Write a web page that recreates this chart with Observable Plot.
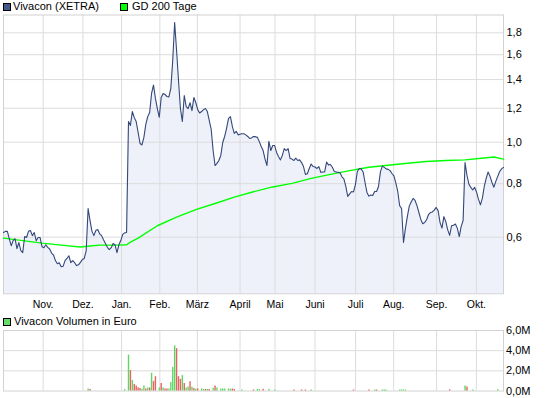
<!DOCTYPE html>
<html><head><meta charset="utf-8">
<script src="https://cdn.jsdelivr.net/npm/d3@7"></script>
<script src="https://cdn.jsdelivr.net/npm/@observablehq/plot@0.6"></script>
<style>
body{margin:0;background:#fff;font-family:"Liberation Sans",Arial,sans-serif;}
#wrap{position:relative;width:545px;height:398px;overflow:hidden;background:#fff;}
.lg{position:absolute;font-size:11px;line-height:11px;color:#000;white-space:nowrap;}
.sq{position:absolute;width:6px;height:6px;border:1px solid #000;}
#main{position:absolute;left:0;top:0;}
#vol{position:absolute;left:0;top:315px;}
</style></head><body>
<div id="wrap">
  <div id="main"></div>
  <div id="vol"></div>
  <div class="sq" style="left:3px;top:3px;background:#44598a"></div>
  <div class="lg" style="left:13px;top:1px">Vivacon (XETRA)</div>
  <div class="sq" style="left:120px;top:3px;background:#00ff00"></div>
  <div class="lg" style="left:132px;top:1px">GD 200 Tage</div>
  <div class="sq" style="left:3px;top:318px;background:#66dd66"></div>
  <div class="lg" style="left:14px;top:316px">Vivacon Volumen in Euro</div>
</div>
<script>
// Closing prices per trading day (index 0 = first day shown)
const prices = [
0.615,0.619,0.619,0.595,0.573,0.589,0.595,0.564,0.583,0.558,
0.552,0.602,0.599,0.619,0.622,0.605,0.615,0.589,0.599,0.599,
0.570,0.567,0.576,0.568,0.563,0.551,0.545,0.529,0.520,0.523,
0.512,0.513,0.529,0.535,0.543,0.523,0.529,0.523,0.515,0.517,
0.524,0.532,0.535,0.558,0.700,0.656,0.619,0.605,0.622,0.625,
0.611,0.605,0.592,0.580,0.568,0.561,0.567,0.580,0.576,0.552,
0.576,0.589,0.609,0.614,0.615,1.117,1.094,1.179,1.141,1.117,
1.054,0.993,0.985,1.026,1.100,1.147,1.173,1.299,1.359,1.265,
1.198,1.143,1.271,1.299,1.292,1.278,1.275,1.334,1.551,1.902,
1.637,1.393,1.198,1.117,1.285,1.211,1.198,1.236,1.185,1.271,
1.236,1.191,1.170,1.179,1.191,1.198,1.179,1.123,1.071,0.956,
0.882,0.892,0.906,0.931,0.998,1.031,1.077,1.135,1.147,1.088,
1.048,1.060,1.040,1.043,1.046,1.046,1.040,1.031,1.020,1.023,
1.031,1.030,1.026,1.004,0.977,0.956,0.913,0.882,1.004,0.956,
0.982,0.982,0.946,0.926,0.909,0.931,0.966,0.956,0.966,0.916,
0.913,0.906,0.918,0.906,0.909,0.896,0.877,0.841,0.844,0.868,
0.889,0.877,0.875,0.868,0.877,0.850,0.852,0.852,0.898,0.885,
0.887,0.874,0.854,0.852,0.850,0.848,0.830,0.821,0.788,0.747,
0.757,0.767,0.765,0.796,0.854,0.868,0.866,0.852,0.805,0.763,
0.748,0.753,0.751,0.767,0.767,0.788,0.852,0.879,0.873,0.866,
0.864,0.858,0.845,0.834,0.803,0.767,0.711,0.700,0.583,0.629,
0.670,0.709,0.725,0.739,0.731,0.711,0.685,0.660,0.645,0.649,
0.659,0.677,0.685,0.687,0.694,0.704,0.692,0.649,0.630,0.670,
0.652,0.624,0.606,0.638,0.640,0.644,0.629,0.602,0.636,0.656,
0.896,0.837,0.798,0.784,0.773,0.784,0.764,0.735,0.714,0.739,
0.788,0.823,0.852,0.832,0.805,0.785,0.810,0.832,0.854,0.866,0.873
];

// 200-day moving average (GD 200), read at sample days
const maDays   = [0,10,20,30,40,45,50,60,64,66,70,80,90,100,110,120,130,140,150,160,170,180,190,200,210,220,230,240,250,255,260];
const maValues = [0.597,0.589,0.581,0.575,0.569,0.572,0.575,0.575,0.576,0.584,0.597,0.638,0.668,0.696,0.719,0.744,0.766,0.786,0.801,0.823,0.841,0.858,0.874,0.883,0.893,0.901,0.906,0.909,0.918,0.923,0.913];

// Volume in Euro (millions), with up/down day
const volDays = [44,45,63,65,66,67,68,69,70,71,72,73,74,75,76,77,78,79,
  81,82,83,84,85,86,87,88,89,90,91,92,93,94,95,96,97,98,99,100,101,
  103,104,105,106,107,109,110,111,113,114,115,117,118,119,120,
  124,130,132,133,135,138,141,151,155,157,160,
  182,190,193,194,197,198,199,206,207,208,209,232,240,241,244,257];
const volMillions = [0.2,0.14,0.14,3.56,2.03,1.05,0.64,0.5,0.31,0.24,0.17,0.5,0.2,0.3,0.3,1.76,0.95,1.42,
  0.3,0.75,0.3,0.2,0.2,0.2,0.85,2.34,4.48,4.2,1.42,1.15,1.53,0.75,0.3,0.4,0.92,0.37,0.24,0.17,0.2,
  0.2,0.15,0.15,0.15,0.15,0.27,0.5,0.3,0.2,0.2,0.2,0.2,0.17,0.2,0.15,
  0.1,0.1,0.15,0.15,0.17,0.15,0.1,0.1,0.1,0.1,0.1,
  0.1,0.1,0.1,0.1,0.1,0.1,0.1,0.1,0.1,0.1,0.1,0.12,0.5,0.4,0.1,0.12];
const volDir = ["up","down","up","up","down","up","down","down","down","down","up","up","down","up","down","up","down","down",
  "up","down","up","down","down","up","up","up","up","down","down","down","up","down","up","up","down","up","down","up","down",
  "up","up","down","up","down","up","down","up","up","up","up","up","up","down","down",
  "up","down","up","up","down","up","up","down","down","down","up",
  "down","down","up","down","up","up","up","up","up","up","up","down","up","down","up","up"];

// Month axis: label and position (trading-day index where the month starts)
const monthLabels = ["Nov.","Dez.","Jan.","Feb.","März","April","Mai","Juni","Juli","Aug.","Sep.","Okt."];
const monthPos    = [20.6,41.3,61.4,81.3,100.8,123.0,141.2,162.0,183.1,202.9,225.2,245.9];
const priceTicks  = [0.6,0.8,1.0,1.2,1.4,1.6,1.8];
const volTicks    = [0,2,4,6];

const dayCount = 260;
const yDomain = [0.4425, 1.981];

const priceData = prices.map((p, i) => ({day: i, price: p}));
const maData = maDays.map((d, i) => ({day: d, ma: maValues[i]}));
const volData = volDays.map((d, i) => ({day: d, vol: volMillions[i] * 1e6, dir: volDir[i]}));
const monthMap = new Map(monthPos.map((p, i) => [p, monthLabels[i]]));
const comma = v => v.toFixed(1).replace(".", ",");

const gridColor = "#dcdcdc";
const font = {fontFamily: "'Liberation Sans', Arial, sans-serif", fontSize: "11px", color: "#000", background: "transparent", overflow: "visible"};

const main = Plot.plot({
  width: 545, height: 315,
  marginLeft: 3, marginRight: 42, marginTop: 14.5, marginBottom: 21.7,
  style: font,
  x: {domain: [0, dayCount], label: null},
  y: {type: "log", domain: yDomain, label: null},
  marks: [
    Plot.areaY(priceData, {x: "day", y1: yDomain[0], y2: "price", fill: "#eef1fa"}),
    Plot.gridX(monthPos, {stroke: gridColor, strokeOpacity: 1}),
    Plot.gridY(priceTicks, {stroke: gridColor, strokeOpacity: 1}),
    Plot.frame({stroke: "#d2d2d2"}),
    Plot.line(maData, {x: "day", y: "ma", stroke: "#00ff00", strokeWidth: 1.4}),
    Plot.line(priceData, {x: "day", y: "price", stroke: "#34487a", strokeWidth: 1.1}),
    Plot.axisX(monthPos, {tickSize: 0, tickPadding: 6.5, tickFormat: d => monthMap.get(d), fontSize: 10.5, label: null}),
    Plot.axisY(priceTicks, {anchor: "right", tickSize: 0, tickPadding: 3, tickFormat: comma, label: null})
  ]
});
document.getElementById("main").appendChild(main);

const vol = Plot.plot({
  width: 545, height: 83,
  marginLeft: 3, marginRight: 42, marginTop: 15, marginBottom: 7.5,
  style: font,
  x: {domain: [0, dayCount], axis: null, label: null},
  y: {domain: [0, 6e6], label: null},
  color: {domain: ["up", "down"], range: ["#5fd75f", "#e46262"]},
  marks: [
    Plot.gridX(monthPos, {stroke: gridColor, strokeOpacity: 1}),
    Plot.gridY([2e6, 4e6], {stroke: gridColor, strokeOpacity: 1}),
    Plot.frame({stroke: "#d2d2d2"}),
    Plot.ruleX(volData, {x: "day", y1: 0, y2: "vol", stroke: "dir", strokeWidth: 1.4}),
    Plot.axisY(volTicks.map(v => v * 1e6), {anchor: "right", tickSize: 0, tickPadding: 2.5, tickFormat: d => comma(d / 1e6) + "M", label: null})
  ]
});
document.getElementById("vol").appendChild(vol);
</script>
</body></html>
